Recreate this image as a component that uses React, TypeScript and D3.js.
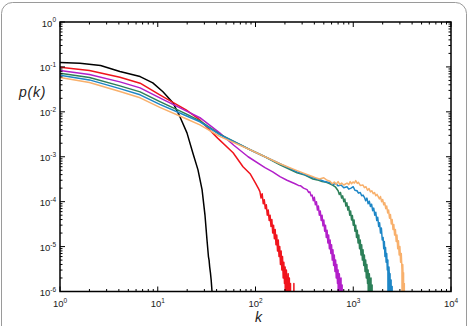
import React from "react";
import * as d3 from "d3";

type Pt = [number, number];

// decade exponents used for the tick labels
const xTickExps = [0, 1, 2, 3, 4];
const yTickExps = [0, -1, -2, -3, -4, -5, -6];

// p = 1e-9 marks an empty bin (drawn off the bottom of the plot)
const blackSeries: Pt[] = [
  [1, 0.125], [1.6, 0.121], [2.6, 0.108], [4.1, 0.079], [6.6, 0.061], [8.9, 0.044],
  [11.3, 0.028], [14.3, 0.016], [16.9, 0.0077], [19.9, 0.0034], [22.9, 0.0012],
  [25.8, 5.1e-4], [28.4, 1.85e-4], [30.4, 5.1e-5], [31.9, 1.4e-5], [33, 6e-6],
  [33.5, 5e-6], [34, 3.5e-6], [34.6, 2.6e-6], [35.2, 1.8e-6], [35.9, 1e-6], [36.2, 1e-9],
];

const redSeries: Pt[] = [
  [1, 0.0985], [2, 0.0836], [4.1, 0.059], [6.6, 0.0434], [10.5, 0.0239], [14, 0.0167],
  [19.5, 0.0111], [27, 0.0066], [41, 0.0026], [59, 0.00123], [74.5, 6.0e-4], [88, 4.2e-4],
  [100, 2.6e-4], [108, 1.9e-4], [111, 1.67e-4], [114, 1.2e-4], [117, 1.5e-4], [120, 9e-5],
  [123, 1.1e-4], [126, 7e-5], [129, 8.5e-5], [132, 5e-5], [135, 6.5e-5], [138, 3.8e-5],
  [141, 5e-5], [144, 2.8e-5], [147, 4e-5], [150, 2e-5], [153, 3e-5], [156, 1.5e-5],
  [159, 2.4e-5], [162, 1.1e-5], [165, 1.8e-5], [168, 8e-6], [171, 1.4e-5], [174, 6e-6],
  [177, 1e-5], [180, 4e-6], [183, 8e-6], [186, 3e-6], [189, 6e-6], [192, 2e-6],
  [195, 4.5e-6], [198, 1.5e-6], [201, 3.5e-6], [204, 1e-9], [207, 3e-6], [210, 1.5e-6],
  [213, 1e-9], [216, 2.5e-6], [219, 1e-9], [222, 2e-6], [225, 1e-9], [228, 1.5e-6],
  [231, 1e-9], [244, 1e-9], [247, 1.5e-6], [250, 1e-9],
];

const magentaSeries: Pt[] = [
  [1, 0.0828], [2, 0.068], [4.1, 0.0464], [6.6, 0.0341], [10.5, 0.0205], [19.5, 0.0105],
  [27, 0.0074], [43, 0.0034], [60, 0.0018], [84, 0.001], [125, 5.7e-4], [150, 4.6e-4],
  [178, 3.6e-4], [210, 3.0e-4], [254, 2.5e-4], [275, 2.3e-4], [290, 2.25e-4], [310, 2.0e-4],
  [337, 1.85e-4], [350, 1.6e-4], [360, 1.65e-4], [370, 1.35e-4], [380, 1.4e-4],
  [390, 1.05e-4], [400, 1.25e-4], [410, 8.5e-5], [420, 1.0e-4], [430, 6.5e-5], [440, 8e-5],
  [450, 5e-5], [460, 6.2e-5], [470, 3.8e-5], [480, 5e-5], [490, 2.9e-5], [500, 3.9e-5],
  [510, 2.2e-5], [520, 3e-5], [530, 1.6e-5], [540, 2.3e-5], [550, 1.2e-5], [560, 1.8e-5],
  [570, 9e-6], [580, 1.4e-5], [590, 7e-6], [600, 1.1e-5], [610, 5e-6], [620, 8.5e-6],
  [630, 3.8e-6], [640, 6.5e-6], [650, 2.8e-6], [660, 5e-6], [670, 2e-6], [680, 4e-6],
  [690, 1.5e-6], [700, 3e-6], [710, 1e-9], [720, 2.5e-6], [730, 1.3e-6], [740, 1e-9],
  [750, 2e-6], [760, 1e-9], [770, 1.4e-6], [780, 1e-9],
];

const greenSeries: Pt[] = [
  [1, 0.0724], [2, 0.0584], [4.1, 0.0378], [6.6, 0.0278], [10.5, 0.0169], [19.5, 0.009],
  [27, 0.0063], [43, 0.0032], [88, 0.00143], [125, 0.001], [178, 6.6e-4], [266, 4.4e-4],
  [320, 3.9e-4], [387, 3.2e-4], [430, 3.05e-4], [480, 2.8e-4], [530, 2.7e-4], [578, 2.5e-4],
  [620, 2.3e-4], [660, 2.1e-4], [700, 1.75e-4], [720, 1.45e-4], [740, 1.6e-4],
  [760, 1.2e-4], [780, 1.35e-4], [800, 1.0e-4], [820, 1.15e-4], [840, 8e-5], [860, 9.5e-5],
  [880, 6.5e-5], [900, 7.8e-5], [920, 5e-5], [940, 6.2e-5], [960, 3.9e-5], [980, 4.9e-5],
  [1000, 3e-5], [1020, 3.9e-5], [1040, 2.2e-5], [1060, 3e-5], [1080, 1.6e-5], [1100, 2.3e-5],
  [1120, 1.2e-5], [1140, 1.8e-5], [1160, 9e-6], [1180, 1.4e-5], [1200, 6.5e-6],
  [1220, 1.1e-5], [1240, 5e-6], [1260, 8.5e-6], [1280, 3.8e-6], [1300, 6.5e-6],
  [1320, 2.8e-6], [1340, 5e-6], [1360, 2e-6], [1380, 4e-6], [1400, 1.5e-6], [1420, 3e-6],
  [1440, 1e-9], [1460, 2.5e-6], [1480, 1.3e-6], [1500, 1e-9], [1520, 2e-6], [1540, 1e-9],
  [1560, 1.4e-6], [1580, 1e-9],
];

const blueSeries: Pt[] = [
  [1, 0.0654], [2, 0.0514], [4.1, 0.0329], [6.6, 0.0239], [10.5, 0.0147], [19.5, 0.0082],
  [27, 0.006], [43, 0.0031], [88, 0.00143], [125, 0.001], [178, 7e-4], [266, 4.6e-4],
  [320, 4.0e-4], [387, 3.4e-4], [440, 3.15e-4], [500, 2.85e-4], [578, 2.64e-4], [620, 2.4e-4],
  [660, 2.55e-4], [700, 2.25e-4], [750, 2.35e-4], [800, 2.05e-4], [863, 2.15e-4],
  [900, 1.9e-4], [950, 2.0e-4], [1000, 2.15e-4], [1040, 1.8e-4], [1093, 1.75e-4],
  [1130, 1.55e-4], [1180, 1.6e-4], [1220, 1.35e-4], [1260, 1.4e-4], [1300, 1.25e-4],
  [1340, 1.05e-4], [1380, 1.2e-4], [1420, 9e-5], [1460, 1.02e-4], [1500, 7.8e-5],
  [1540, 8.8e-5], [1580, 6.3e-5], [1620, 7.2e-5], [1660, 5e-5], [1700, 5.8e-5],
  [1740, 3.8e-5], [1780, 4.5e-5], [1820, 2.8e-5], [1860, 3.4e-5], [1900, 2e-5],
  [1940, 2.6e-5], [1980, 1.4e-5], [2020, 1.6e-5], [2050, 9e-6], [2080, 1.3e-5], [2110, 6e-6],
  [2140, 9.5e-6], [2170, 4.5e-6], [2200, 7e-6], [2230, 3e-6], [2260, 5e-6], [2290, 1e-9],
  [2320, 3.5e-6], [2350, 1.6e-6], [2380, 2.5e-6], [2410, 1e-9], [2440, 1.8e-6], [2470, 1e-9],
  [2500, 1.3e-6], [2530, 1e-9],
];

const orangeSeries: Pt[] = [
  [1, 0.0578], [2, 0.0452], [4.1, 0.0283], [6.6, 0.0205], [10.5, 0.0126], [19.5, 0.007],
  [27, 0.00514], [43, 0.00285], [88, 0.00143], [125, 0.001], [178, 7e-4], [266, 4.9e-4],
  [320, 4.2e-4], [387, 3.6e-4], [420, 3.35e-4], [450, 3.2e-4], [500, 3.4e-4], [540, 3.0e-4],
  [578, 2.85e-4], [610, 2.5e-4], [640, 2.75e-4], [670, 2.45e-4], [700, 2.8e-4],
  [730, 2.4e-4], [760, 2.6e-4], [800, 2.35e-4], [863, 2.6e-4], [900, 2.4e-4], [930, 2.8e-4],
  [960, 2.5e-4], [994, 2.75e-4], [1030, 2.6e-4], [1060, 2.95e-4], [1100, 2.55e-4],
  [1130, 2.7e-4], [1180, 2.3e-4], [1258, 2.35e-4], [1300, 2.05e-4], [1350, 2.15e-4],
  [1400, 1.8e-4], [1450, 1.95e-4], [1500, 1.65e-4], [1550, 1.75e-4], [1600, 1.5e-4],
  [1650, 1.6e-4], [1700, 1.35e-4], [1750, 1.45e-4], [1800, 1.3e-4], [1850, 1.15e-4],
  [1900, 1.3e-4], [1950, 1.0e-4], [2000, 1.12e-4], [2050, 8.5e-5], [2100, 9.5e-5],
  [2150, 7e-5], [2200, 8e-5], [2250, 5.6e-5], [2300, 6.5e-5], [2350, 4.3e-5], [2400, 5.2e-5],
  [2450, 3.2e-5], [2500, 4e-5], [2550, 2.4e-5], [2600, 3.1e-5], [2650, 1.8e-5],
  [2700, 2.4e-5], [2750, 1.3e-5], [2800, 1.8e-5], [2850, 9e-6], [2900, 1.35e-5],
  [2950, 6.5e-6], [3000, 1e-5], [3050, 4.5e-6], [3100, 7e-6], [3150, 3e-6], [3180, 1e-9],
  [3210, 4e-6], [3240, 1.8e-6], [3270, 2.6e-6], [3300, 1e-9], [3330, 1.5e-6], [3360, 1e-9],
];

const series = [
  { name: "black", color: "#000000", data: blackSeries },
  { name: "red", color: "#f0141c", data: redSeries },
  { name: "magenta", color: "#b21fc9", data: magentaSeries },
  { name: "green", color: "#2c7f58", data: greenSeries },
  { name: "blue", color: "#1d86c6", data: blueSeries },
  { name: "orange", color: "#f8b06c", data: orangeSeries },
];

const width = 470;
const height = 326;
const margin = { top: 22, right: 19, bottom: 34.5, left: 60 };
const font = "'Liberation Sans', Arial, Helvetica, sans-serif";

const isMajor = (v: number) => Math.abs(Math.log10(v) - Math.round(Math.log10(v))) < 1e-6;

export default function App() {
  const x = d3
    .scaleLog()
    .domain([1, 1e4])
    .range([margin.left, width - margin.right]);
  const y = d3
    .scaleLog()
    .domain([1e-6, 1])
    .range([height - margin.bottom, margin.top]);

  const line = d3
    .line<Pt>()
    .x((d) => x(d[0]))
    .y((d) => y(d[1]));

  const x0 = margin.left;
  const x1 = width - margin.right;
  const y0 = height - margin.bottom;
  const y1 = margin.top;

  const xt = x.ticks();
  const yt = y.ticks();
  const major = 5;
  const minor = 2.5;

  return (
    <svg
      width={width}
      height={height}
      style={{ position: "absolute", left: 0, top: 0, background: "#fff" }}
    >
      <rect x={1.5} y={2.5} width={465} height={360} rx={11} fill="#fff" stroke="#9a9a9a" strokeWidth={1} />
      <defs>
        <clipPath id="plot-clip">
          <rect x={x0} y={y1} width={x1 - x0} height={y0 - y1} />
        </clipPath>
      </defs>

      <g clipPath="url(#plot-clip)" fill="none" strokeWidth={1.5} strokeLinejoin="round">
        {series.map((s) => (
          <path key={s.name} d={line(s.data) || ""} stroke={s.color} />
        ))}
      </g>

      {/* ticks, inward on all four sides */}
      <g stroke="#000" strokeWidth={1}>
        {xt.map((t, i) => {
          const len = isMajor(t) ? major : minor;
          const px = x(t);
          return (
            <g key={"xt" + i}>
              <line x1={px} x2={px} y1={y0} y2={y0 - len} />
              <line x1={px} x2={px} y1={y1} y2={y1 + len} />
            </g>
          );
        })}
        {yt.map((t, i) => {
          const len = isMajor(t) ? major : minor;
          const py = y(t);
          return (
            <g key={"yt" + i}>
              <line x1={x0} x2={x0 + len} y1={py} y2={py} />
              <line x1={x1} x2={x1 - len} y1={py} y2={py} />
            </g>
          );
        })}
      </g>

      <rect x={x0} y={y1} width={x1 - x0} height={y0 - y1} fill="none" stroke="#000" strokeWidth={1.5} />

      <g fontFamily={font} fill="#222">
        {xTickExps.map((e) => (
          <text key={"xl" + e} x={x(Math.pow(10, e))} y={y0 + 15.5} fontSize={9.5} textAnchor="middle">
            10
            <tspan dy={-4.5} fontSize={6.5}>
              {e}
            </tspan>
          </text>
        ))}
        {yTickExps.map((e) => (
          <text key={"yl" + e} x={56} y={y(Math.pow(10, e)) + 4.5} fontSize={9.5} textAnchor="end">
            10
            <tspan dy={-4.5} fontSize={6.5}>
              {e}
            </tspan>
          </text>
        ))}
        <text x={(x0 + x1) / 2 + 3} y={322} fontSize={14} fontStyle="italic" textAnchor="middle">
          k
        </text>
        <text x={19} y={97} fontSize={14} fontStyle="italic" letterSpacing={0.8}>
          p(k)
        </text>
      </g>
    </svg>
  );
}
